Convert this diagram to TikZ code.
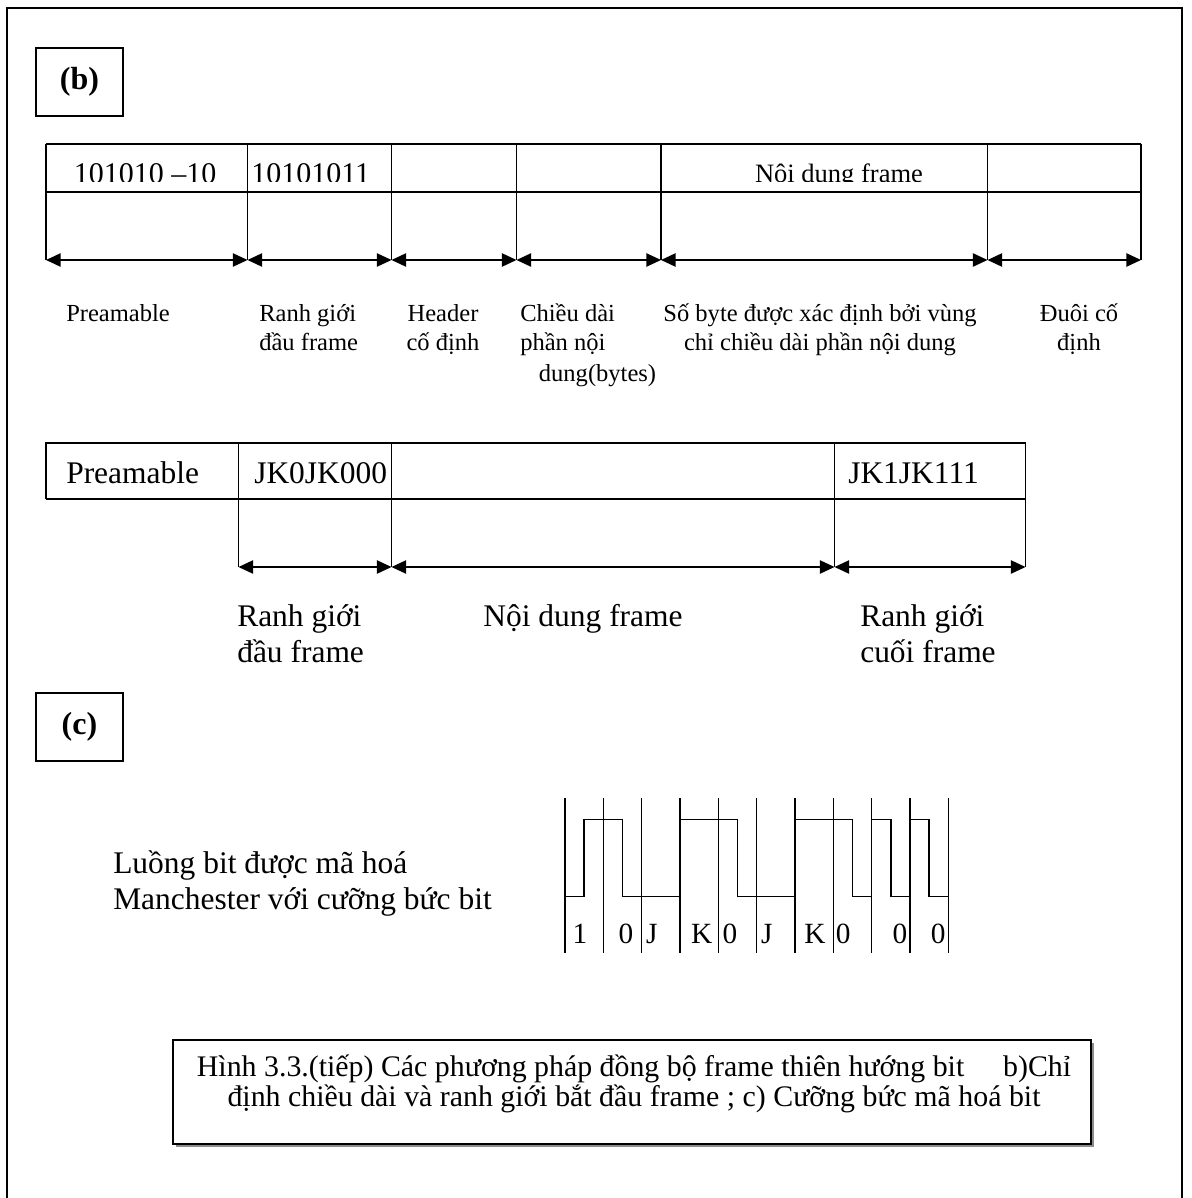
\documentclass[tikz,border=0pt]{standalone}
\usepackage{fontspec}
\setmainfont{Liberation Serif}
\usetikzlibrary{arrows.meta}

\newcommand{\up}{\rule{0pt}{1em}}

\tikzset{
  frm/.style={line width=1.1pt},
  dim/.style={line width=1.1pt, {Triangle[length=11pt,width=10pt]}-{Triangle[length=11pt,width=10pt]}},
  tag/.style={draw, line width=1.1pt, minimum width=65.25pt, minimum height=51pt, inner sep=0pt, font=\fontsize{24}{28}\selectfont\bfseries},
  cell/.style={inner sep=0pt, anchor=base, font=\fontsize{22.5}{26}\selectfont},
  lbl/.style={inner sep=0pt, anchor=north, font=\fontsize{18.4}{21.4}\selectfont},
  big/.style={inner sep=0pt, anchor=north, font=\fontsize{23.6}{27}\selectfont},
  bit/.style={inner sep=0pt, anchor=base, font=\fontsize{22}{26}\selectfont}
}

\begin{document}
\begin{tikzpicture}[x=0.75pt, y=-0.75pt]
  \useasboundingbox (0,0) rectangle (1191,1198);
  \draw[frm] (7,1198) -- (7,8) -- (1182,8) -- (1182,1198);

  \node[tag] (tagb) at (79.5,82) {(b)};

  \foreach \n/\x in {0/46,1/247.5,2/391.5,3/516.5,4/661,5/987.5,6/1141} {
    \coordinate (t\n) at (\x,144);
    \coordinate (a\n) at (\x,260);
    \draw[frm] (t\n) -- (a\n);
  }
  \draw[frm] (t0) -- (t6);
  \draw[frm] (46,192) -- (1141,192);
  \foreach \i/\j in {0/1,1/2,2/3,3/4,4/5,5/6} \draw[dim] (a\i) -- (a\j);
  \begin{scope}
    \clip (46,144) rectangle (1141,181.5);
    \node[cell] (pre0) at (145,184) {101010 –10};
    \node[cell, anchor=base west] (sof0) at (251,184) {10101011};
    \node[cell, font=\fontsize{19.9}{23}\selectfont] (data0) at (839,182.5) {Nội dung frame};
  \end{scope}

  \node[lbl, anchor=north west] (pre1) at (66,297) {\up Preamable};
  \node[lbl, anchor=north west, align=left] (sof1) at (259,297) {\up Ranh giới\\đầu frame};
  \node[lbl, align=center] (hdr1) at (443,297) {\up Header\\cố định};
  \node[lbl, anchor=north west, align=left] (len1) at (520,297) {\up Chiều dài\\phần nội\\[2pt]\hspace*{14pt}dung(bytes)};
  \node[lbl, align=center] (data1) at (820,297) {\up Số byte được xác định bởi vùng\\chỉ chiều dài phần nội dung};
  \node[lbl, align=center] (tail1) at (1079,297) {\up Đuôi cố\\định};

  \foreach \n/\x in {0/46,1/238.5,2/391.5,3/834.5,4/1025.5} {
    \coordinate (u\n) at (\x,443);
    \coordinate (b\n) at (\x,567);
  }
  \draw[frm] (b0 |- 0,499) -- (u0) -- (u4) -- (b4);
  \draw[frm] (46,499) -- (1025.5,499);
  \foreach \n in {1,2,3} \draw[frm] (u\n) -- (b\n);
  \foreach \i/\j in {1/2,2/3,3/4} \draw[dim] (b\i) -- (b\j);
  \node[cell, anchor=base west, font=\fontsize{23.6}{27}\selectfont] (pre2) at (66,483) {Preamable};
  \node[cell, anchor=base west, font=\fontsize{23.6}{27}\selectfont] (sof2) at (254,483) {JK0JK000};
  \node[cell, anchor=base west, font=\fontsize{23.6}{27}\selectfont] (eof2) at (848,483) {JK1JK111};

  \node[big, anchor=north west, align=left] (sof3) at (237,595) {\up Ranh giới\\đầu frame};
  \node[big] (data3) at (583,595) {\up Nội dung frame};
  \node[big, anchor=north west, align=left] (eof3) at (860,595) {\up Ranh giới\\cuối frame};

  \node[tag] (tagc) at (79.5,727) {(c)};

  \node[big, anchor=north west, align=left] (desc) at (113,842) {\up Luồng bit được mã hoá\\Manchester với cưỡng bức bit};

  \foreach \i in {0,...,10} \draw[frm] ({565+38.33*\i},798) -- ({565+38.33*\i},953);
  \draw[frm] (565,896.7) -- (584.2,896.7) -- (584.2,819.3) -- (622.5,819.3) -- (622.5,896.7)
    -- (680,896.7) -- (680,819.3) -- (737.5,819.3) -- (737.5,896.7) -- (795,896.7)
    -- (795,819.3) -- (852.5,819.3) -- (852.5,896.7) -- (871.7,896.7) -- (871.7,819.3)
    -- (890.8,819.3) -- (890.8,896.7) -- (910,896.7) -- (910,819.3) -- (929.2,819.3)
    -- (929.2,896.7) -- (948.3,896.7);
  \foreach \x/\t [count=\n] in {580/1,626/0,651.7/J,701.7/K,730/0,766.7/J,815/K,843.3/0,900/0,938.3/0}
    \node[bit] (bit\n) at (\x,943) {\t};

  \fill[black!45] (176,1043) rectangle (1094,1147);
  \draw[frm, fill=white] (173,1040) rectangle (1091,1144);
  \node[big, align=center, font=\fontsize{22.4}{22.5}\selectfont] (cap) at (634,1046)
    {\up Hình 3.3.(tiếp) Các phương pháp đồng bộ frame thiên hướng bit\hspace{1.3em}b)Chỉ\\định chiều dài và ranh giới bắt đầu frame ; c) Cưỡng bức mã hoá bit};
\end{tikzpicture}
\end{document}
